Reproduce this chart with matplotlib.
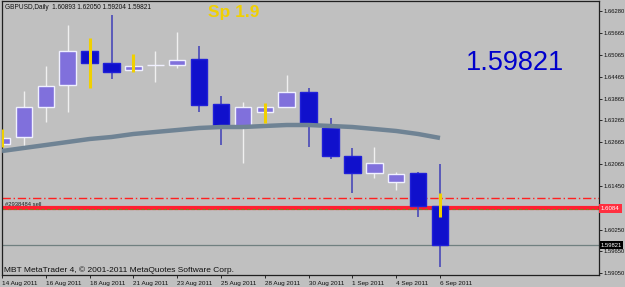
import matplotlib
matplotlib.use("Agg")
import matplotlib.pyplot as plt
import numpy as np

# ---- data ----
dates = ["14 Aug 2011", "15 Aug 2011", "16 Aug 2011", "17 Aug 2011", "18 Aug 2011",
         "19 Aug 2011", "21 Aug 2011", "22 Aug 2011", "23 Aug 2011", "24 Aug 2011",
         "25 Aug 2011", "26 Aug 2011", "28 Aug 2011", "29 Aug 2011", "30 Aug 2011",
         "31 Aug 2011", "1 Sep 2011", "2 Sep 2011", "4 Sep 2011", "5 Sep 2011",
         "6 Sep 2011"]
opens = [1.62610, 1.62803, 1.63631, 1.64238, 1.65176, 1.64845, 1.64652, 1.64790,
         1.64790, 1.64955, 1.63714, 1.63107, 1.63493, 1.63631, 1.64045, 1.63052,
         1.62279, 1.61810, 1.61561, 1.61810, 1.60893]
highs = [1.62803, 1.64072, 1.64762, 1.65894, 1.65204, 1.66170, 1.64762, 1.65176,
         1.65701, 1.65314, 1.63935, 1.63769, 1.63631, 1.64514, 1.64155, 1.63327,
         1.62500, 1.62527, 1.61837, 1.61837, 1.62050]
lows = [1.62582, 1.62527, 1.63217, 1.63493, 1.64818, 1.64404, 1.64652, 1.64321,
        1.64707, 1.63493, 1.62582, 1.62086, 1.63493, 1.63631, 1.62527, 1.62196,
        1.61258, 1.61672, 1.61341, 1.60596, 1.59204]
closes = [1.62776, 1.63631, 1.64210, 1.65176, 1.64845, 1.64597, 1.64762, 1.64790,
          1.64928, 1.63686, 1.63079, 1.63631, 1.63631, 1.64045, 1.63189, 1.62279,
          1.61810, 1.62086, 1.61782, 1.60893, 1.59821]
ma_values = [1.62417, 1.62500, 1.62582, 1.62665, 1.62748, 1.62803, 1.62886, 1.62941,
             1.62996, 1.63052, 1.63079, 1.63079, 1.63107, 1.63134, 1.63134, 1.63107,
             1.63079, 1.63024, 1.62969, 1.62886, 1.62776]
yellow_idx = [0, 4, 6, 12, 20]
yellow_top = [1.63024, 1.65535, 1.65093, 1.63741, 1.61258]
yellow_bot = [1.62527, 1.64155, 1.64597, 1.63189, 1.60596]
ytick_vals = [1.66280, 1.65665, 1.65065, 1.64465, 1.63865, 1.63265, 1.62665,
              1.62065, 1.61450, 1.60250, 1.59650, 1.59050]
order_price = 1.6084
stop_price = 1.6112
bid_price = 1.59821
title_text = "GBPUSD,Daily  1.60893 1.62050 1.59204 1.59821"

BG = "#c0c0c0"
fig = plt.figure(figsize=(6.25, 2.87), dpi=100, facecolor=BG)
ax = fig.add_axes([2 / 625, 12 / 287, 597 / 625, 274 / 287], facecolor=BG)

x = np.arange(len(dates))
o = np.array(opens); c = np.array(closes); h = np.array(highs); l = np.array(lows)
bull = c >= o

# wicks
ax.vlines(x[bull], l[bull], h[bull], color="#f0f0f0", lw=1, zorder=2)
ax.vlines(x[~bull], l[~bull], h[~bull], color="#4848b8", lw=1.2, zorder=2)
# bodies
ax.bar(x[bull], (c - o)[bull], bottom=o[bull], width=0.75, color="#8070dc",
       edgecolor="#f0f0ff", lw=1, zorder=3)
ax.bar(x[~bull], (o - c)[~bull], bottom=c[~bull], width=0.75, color="#1010cc",
       edgecolor="#2020d8", lw=1, zorder=3)

# moving average
ax.plot(x, ma_values, color="#6f8394", lw=3.2, solid_capstyle="butt", zorder=4)

# yellow indicator segments
ax.vlines(yellow_idx, yellow_bot, yellow_top, color="#f0d000", lw=2.2, zorder=5)

# horizontal lines
ax.axhline(stop_price, color="#ff2020", lw=1, ls=(0, (6, 2, 1, 2)), zorder=1)
ax.axhline(order_price, color="#ff2030", lw=3, zorder=1)
ax.axhline(order_price - 0.0002, color="#808020", lw=0.8, ls=(0, (3, 2)), zorder=1)
ax.axhline(bid_price, color="#708080", lw=0.9, zorder=1)

ax.text(0.15, order_price + 0.0003, "#2938484 sell", fontsize=4.2,
        family="Liberation Sans", color="#202020", va="bottom", ha="left")

ax.set_xlim(0, 27.26)
ax.set_ylim(1.58995, 1.66556)

# y axis on right
ax.yaxis.tick_right()
ax.set_yticks(ytick_vals)
ax.set_yticklabels([f"{v:.5f}" for v in ytick_vals], fontsize=4.2,
                   family="Liberation Sans", color="#101010")
ax.tick_params(axis="y", length=2, width=0.6, pad=1.2, colors="#101010")

xt = list(range(0, len(dates), 2))
ax.set_xticks(xt)
ax.set_xticklabels([dates[i] for i in xt], fontsize=4.6, family="Liberation Sans",
                   color="#101010")
for lbl in ax.get_xticklabels():
    lbl.set_ha("left")
ax.tick_params(axis="x", length=2.5, width=0.6, pad=1.5, colors="#101010")

for s in ax.spines.values():
    s.set_color("#202020")
    s.set_linewidth(0.9)

# price boxes on right axis
ax.text(1.003, order_price, "1.6084", transform=ax.get_yaxis_transform(),
        fontsize=4.4, family="Liberation Sans", color="white", va="center",
        ha="left", bbox=dict(boxstyle="square,pad=0.35", fc="#ff3040", ec="none"))
ax.text(1.003, bid_price, "1.59821", transform=ax.get_yaxis_transform(),
        fontsize=4.2, family="Liberation Sans", color="white", va="center",
        ha="left", bbox=dict(boxstyle="square,pad=0.2", fc="#000000", ec="none"))

# texts
fig.text(5 / 625, 1 - 7.5 / 287, title_text, fontsize=4.7, family="Liberation Sans",
         color="#101010", va="center", ha="left")
fig.text(208 / 625, 1 - 12 / 287, "Sp 1.9", fontsize=12.5, family="Liberation Sans",
         weight="bold", color="#f0d000", va="center", ha="left")
fig.text(466 / 625, 1 - 63 / 287, "1.59821", fontsize=19.5, family="Liberation Sans",
         color="#0000cc", va="center", ha="left")
fig.text(4 / 625, 1 - 270 / 287, "MBT MetaTrader 4, \u00a9 2001-2011 MetaQuotes Software Corp.",
         fontsize=6, family="Liberation Sans", color="#101010", va="center", ha="left")

fig.savefig("out.png", dpi=100, facecolor=BG)
